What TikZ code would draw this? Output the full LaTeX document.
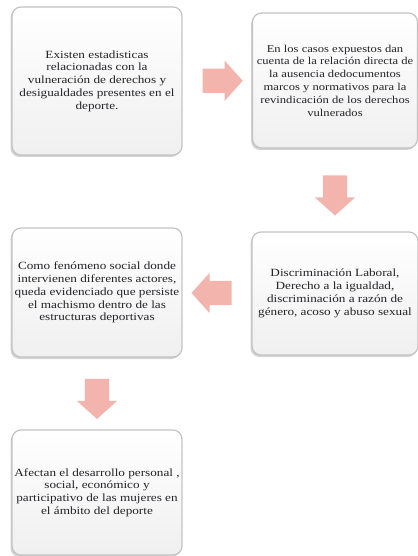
\documentclass[tikz,border=0pt]{standalone}
\usepackage{fontspec}
\setmainfont{Liberation Serif}[FakeStretch=1.2]
\usepackage{tikz}
\usetikzlibrary{arrows,positioning,calc,shapes.arrows,shadows}
\usepackage{xcolor}
\definecolor{rosa}{RGB}{244,180,174}
\definecolor{borde}{RGB}{195,195,195}
\definecolor{letra}{RGB}{35,35,40}

\begin{document}
\begin{tikzpicture}[x=1pt,y=-1pt,
    caja/.style={draw=borde,line width=1.2pt,rounded corners=9pt,top color=white,bottom color=black!6,
      drop shadow={opacity=0.35,shadow xshift=-1.5pt,shadow yshift=-2pt},
      align=center,text=letra,inner sep=2pt,font=\fontsize{11}{12.8}\selectfont},
    flecha/.style={single arrow,draw=none,fill=rosa,inner sep=0pt,inner ysep=12pt,minimum height=40pt,
      single arrow head extend=8pt,single arrow tip angle=96},
    abajo/.style={flecha,shape border rotate=270,inner ysep=0pt,inner xsep=12pt}]
          \useasboundingbox (0,0) rectangle (417,556);
          \node[caja,minimum width=170pt,minimum height=148pt] (A) at (97,81)    {Existen estadisticas\\relacionadas con la\\vulneración de derechos y\\desigualdades presentes en el\\deporte.};
          \node[caja,minimum width=165pt,minimum height=135pt,font=\fontsize{10.5}{12.8}\selectfont] (B) at (335,80.5) {En los casos expuestos dan\\cuenta de la relación directa de\\la ausencia dedocumentos\\marcos y normativos para la\\revindicación de los derechos\\vulnerados};
          \node[caja,minimum width=170pt,minimum height=129pt] (C) at (97,292.5) {Como fenómeno social donde\\intervienen diferentes actores,\\queda evidenciado que persiste\\el machismo dentro de las\\estructuras deportivas};
          \node[caja,minimum width=166pt,minimum height=123pt] (D) at (335,293.5) {Discriminación Laboral,\\Derecho a la igualdad,\\discriminación a razón de\\género, acoso y abuso sexual};
          \node[caja,minimum width=170pt,minimum height=125pt] (E) at (97,492.5) {Afectan el desarrollo personal ,\\social, económico y\\participativo de las mujeres en\\el ámbito del deporte};
          \node[flecha]                          (AB) at ($(A.east)!0.5!(B.west)$)   {};
          \node[abajo]                           (BD) at ($(B.south)!0.5!(D.north)$) {};
          \node[flecha,shape border rotate=180]  (DC) at ($(D.west)!0.5!(C.east)$)   {};
          \node[abajo]                           (CE) at ($(C.south)!0.5!(E.north)$) {};
        \end{tikzpicture}
\end{document}
